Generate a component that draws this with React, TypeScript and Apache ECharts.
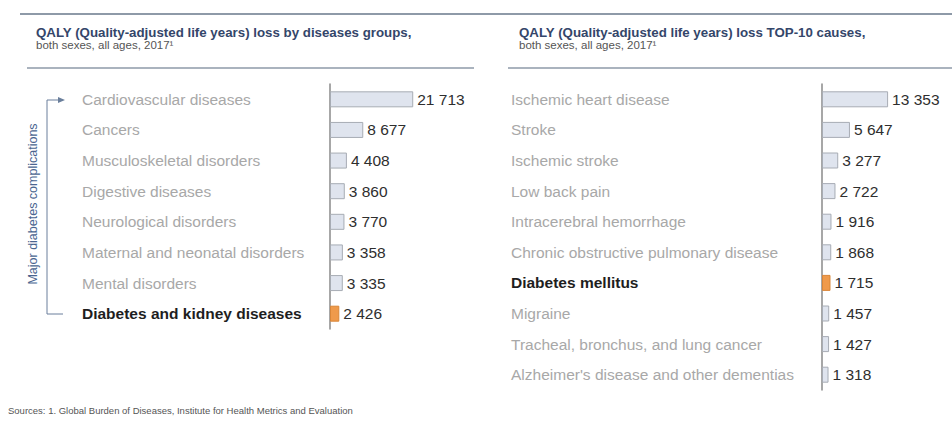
import React, { useEffect, useRef } from "react";
import * as echarts from "echarts";

const leftCategories = [
  "Cardiovascular diseases",
  "Cancers",
  "Musculoskeletal disorders",
  "Digestive diseases",
  "Neurological disorders",
  "Maternal and neonatal disorders",
  "Mental disorders",
  "Diabetes and kidney diseases",
];
const leftValues = [21713, 8677, 4408, 3860, 3770, 3358, 3335, 2426];
const leftHighlight = "Diabetes and kidney diseases";

const rightCategories = [
  "Ischemic heart disease",
  "Stroke",
  "Ischemic stroke",
  "Low back pain",
  "Intracerebral hemorrhage",
  "Chronic obstructive pulmonary disease",
  "Diabetes mellitus",
  "Migraine",
  "Tracheal, bronchus, and lung cancer",
  "Alzheimer's disease and other dementias",
];
const rightValues = [13353, 5647, 3277, 2722, 1916, 1868, 1715, 1457, 1427, 1318];
const rightHighlight = "Diabetes mellitus";

const leftTitle = "QALY (Quality-adjusted life years) loss by diseases groups,";
const rightTitle = "QALY (Quality-adjusted life years) loss TOP-10 causes,";
const subTitle = "both sexes, all ages, 2017\u00b9";
const bracketLabel = "Major diabetes complications";
const sourcesText =
  "Sources: 1. Global Burden of Diseases, Institute for Health Metrics and Evaluation";

const FONT = "Liberation Sans, Arial, sans-serif";
const CAT_FONT_SIZE = 15.5;

const fmt = (n: number) => String(n).replace(/\B(?=(\d{3})+(?!\d))/g, " ");

function catData(cats: string[], hl: string) {
  return cats.map((c) =>
    c === hl
      ? {
          value: c,
          textStyle: {
            fontWeight: "bold",
            color: "#1e1e1e",
            align: "left",
            fontSize: CAT_FONT_SIZE,
            fontFamily: FONT,
          },
        }
      : { value: c }
  );
}

function barData(cats: string[], vals: number[], hl: string) {
  return vals.map((v, i) =>
    cats[i] === hl
      ? { value: v, itemStyle: { color: "#ef9a4b", borderColor: "#d98638" } }
      : { value: v }
  );
}

export default function App() {
  const ref = useRef<HTMLDivElement>(null);
  useEffect(() => {
    if (!ref.current) return;
    const chart = echarts.init(ref.current, null, { renderer: "svg" });
    const lineColor = "#8e9aa8";
    const bracketColor = "#6a7f9c";
    const yAxisCommon = {
      type: "category" as const,
      inverse: true,
      axisTick: { show: false },
      axisLine: { show: true, lineStyle: { color: "#8a8a8a", width: 1.5 } },
      axisLabel: {
        align: "left" as const,
        fontSize: CAT_FONT_SIZE,
        color: "#a8a8a8",
        fontFamily: FONT,
      },
    };
    const xAxisCommon = {
      type: "value" as const,
      min: 0,
      show: false,
      splitLine: { show: false },
    };
    const seriesCommon = {
      type: "bar" as const,
      barWidth: 16,
      itemStyle: { color: "#dfe4ee", borderColor: "#a7acb4", borderWidth: 1 },
      label: {
        show: true,
        position: "right" as const,
        distance: 4,
        fontSize: 15.5,
        color: "#2e2e2e",
        fontFamily: FONT,
        formatter: (p: any) => fmt(p.value),
      },
    };
    chart.setOption({
      animation: false,
      backgroundColor: "#ffffff",
      grid: [
        { left: 330, top: 84, width: 115, height: 245, outerBoundsMode: "none", containLabel: false },
        { left: 822, top: 84, width: 99, height: 306, outerBoundsMode: "none", containLabel: false },
      ],
      xAxis: [
        { ...xAxisCommon, gridIndex: 0, max: 30000 },
        { ...xAxisCommon, gridIndex: 1, max: 20000 },
      ],
      yAxis: [
        {
          ...yAxisCommon,
          gridIndex: 0,
          data: catData(leftCategories, leftHighlight),
          axisLabel: { ...yAxisCommon.axisLabel, margin: 248 },
        },
        {
          ...yAxisCommon,
          gridIndex: 1,
          data: catData(rightCategories, rightHighlight),
          axisLabel: { ...yAxisCommon.axisLabel, margin: 311 },
        },
      ],
      series: [
        {
          ...seriesCommon,
          xAxisIndex: 0,
          yAxisIndex: 0,
          data: barData(leftCategories, leftValues, leftHighlight),
        },
        {
          ...seriesCommon,
          xAxisIndex: 1,
          yAxisIndex: 1,
          data: barData(rightCategories, rightValues, rightHighlight),
        },
      ],
      graphic: [
        { type: "line", shape: { x1: 20, y1: 14, x2: 952, y2: 14 }, style: { stroke: lineColor, lineWidth: 2 } },
        { type: "line", shape: { x1: 27, y1: 68, x2: 474, y2: 68 }, style: { stroke: lineColor, lineWidth: 1.5 } },
        { type: "line", shape: { x1: 508, y1: 68, x2: 952, y2: 68 }, style: { stroke: lineColor, lineWidth: 1.5 } },
        { type: "text", x: 36, y: 32, style: { text: leftTitle, fontSize: 13.3, fontWeight: "bold", fill: "#34466a", fontFamily: FONT, textVerticalAlign: "middle" } },
        { type: "text", x: 36, y: 45, style: { text: subTitle, fontSize: 11.5, fill: "#555555", fontFamily: FONT, textVerticalAlign: "middle" } },
        { type: "text", x: 519, y: 32, style: { text: rightTitle, fontSize: 13.3, fontWeight: "bold", fill: "#34466a", fontFamily: FONT, textVerticalAlign: "middle" } },
        { type: "text", x: 519, y: 45, style: { text: subTitle, fontSize: 11.5, fill: "#555555", fontFamily: FONT, textVerticalAlign: "middle" } },
        { type: "line", shape: { x1: 47, y1: 100, x2: 47, y2: 314 }, style: { stroke: bracketColor, lineWidth: 1 } },
        { type: "line", shape: { x1: 47, y1: 100, x2: 59, y2: 100 }, style: { stroke: bracketColor, lineWidth: 1 } },
        { type: "polygon", shape: { points: [[58, 97], [65, 100], [58, 103]] }, style: { fill: bracketColor } },
        { type: "line", shape: { x1: 47, y1: 314, x2: 63, y2: 314 }, style: { stroke: bracketColor, lineWidth: 1 } },
        {
          type: "text",
          x: 33,
          y: 204,
          rotation: Math.PI / 2,
          style: { text: bracketLabel, fontSize: 12.5, fill: "#4a6590", fontFamily: FONT, textAlign: "center", textVerticalAlign: "middle" },
        },
        { type: "text", x: 8, y: 410, style: { text: sourcesText, fontSize: 9.5, fill: "#555555", fontFamily: FONT, textVerticalAlign: "middle" } },
      ],
    });
    return () => chart.dispose();
  }, []);
  return (
    <div
      ref={ref}
      style={{ position: "fixed", left: 0, top: 0, width: 952, height: 423 }}
    />
  );
}
